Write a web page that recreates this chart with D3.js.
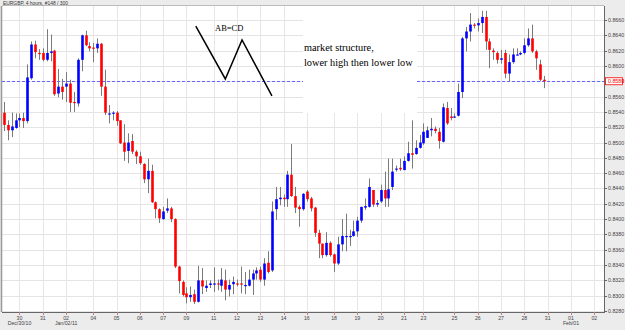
<!DOCTYPE html>
<html>
<head>
<meta charset="utf-8">
<script src="https://cdn.jsdelivr.net/npm/d3@7"></script>
<style>
  html, body { margin: 0; padding: 0; background: #ececec; }
  svg { display: block; }
</style>
</head>
<body>
<div id="chart"></div>
<script>
// EURGBP 4h candles (open / high / low / close)
const opens = [
  0.8539, 0.8523, 0.8516, 0.8519, 0.8529, 0.8532, 0.8528, 0.8584, 0.8628, 0.8617,
  0.8617, 0.8608, 0.8617, 0.8620, 0.8564, 0.8573, 0.8573, 0.8577, 0.8553, 0.8551,
  0.8608, 0.8640, 0.8626, 0.8624, 0.8623, 0.8629, 0.8573, 0.8538, 0.8538, 0.8539,
  0.8529, 0.8500, 0.8489, 0.8502, 0.8488, 0.8482, 0.8472, 0.8452, 0.8463, 0.8422,
  0.8413, 0.8400, 0.8411, 0.8414, 0.8400, 0.8338, 0.8318, 0.8303, 0.8298, 0.8302,
  0.8292, 0.8320, 0.8310, 0.8314, 0.8316, 0.8316, 0.8313, 0.8320, 0.8308, 0.8315,
  0.8316, 0.8316, 0.8314, 0.8313, 0.8321, 0.8329, 0.8334, 0.8321, 0.8343, 0.8333,
  0.8413, 0.8426, 0.8428, 0.8426, 0.8458, 0.8430, 0.8416, 0.8413, 0.8436, 0.8427,
  0.8415, 0.8382, 0.8368, 0.8353, 0.8369, 0.8354, 0.8342, 0.8367, 0.8377, 0.8377,
  0.8378, 0.8384, 0.8398, 0.8415, 0.8416, 0.8438, 0.8419, 0.8423, 0.8438, 0.8427,
  0.8442, 0.8465, 0.8467, 0.8464, 0.8476, 0.8486, 0.8485, 0.8493, 0.8499, 0.8506,
  0.8516, 0.8518, 0.8514, 0.8501, 0.8545, 0.8534, 0.8533, 0.8535, 0.8566, 0.8636,
  0.8645, 0.8654, 0.8653, 0.8656, 0.8664, 0.8632, 0.8620, 0.8617, 0.8608, 0.8617,
  0.8590, 0.8605, 0.8614, 0.8615, 0.8617, 0.8627, 0.8636, 0.8619, 0.8602, 0.8582
];
const highs = [
  0.8553, 0.8529, 0.8539, 0.8538, 0.8538, 0.8539, 0.8602, 0.8632, 0.8633, 0.8622,
  0.8623, 0.8648, 0.8641, 0.8621, 0.8596, 0.8583, 0.8592, 0.8582, 0.8566, 0.8610,
  0.8641, 0.8646, 0.8631, 0.8630, 0.8636, 0.8630, 0.8595, 0.8549, 0.8541, 0.8541,
  0.8529, 0.8524, 0.8512, 0.8511, 0.8490, 0.8488, 0.8473, 0.8479, 0.8471, 0.8423,
  0.8414, 0.8416, 0.8427, 0.8416, 0.8401, 0.8339, 0.8320, 0.8311, 0.8312, 0.8308,
  0.8339, 0.8336, 0.8320, 0.8320, 0.8337, 0.8321, 0.8336, 0.8334, 0.8321, 0.8325,
  0.8321, 0.8338, 0.8331, 0.8334, 0.8334, 0.8337, 0.8338, 0.8349, 0.8358, 0.8423,
  0.8442, 0.8442, 0.8432, 0.8463, 0.8498, 0.8442, 0.8418, 0.8434, 0.8438, 0.8429,
  0.8416, 0.8386, 0.8368, 0.8383, 0.8371, 0.8355, 0.8377, 0.8400, 0.8407, 0.8386,
  0.8398, 0.8403, 0.8416, 0.8427, 0.8453, 0.8438, 0.8425, 0.8445, 0.8462, 0.8479,
  0.8479, 0.8470, 0.8479, 0.8482, 0.8501, 0.8529, 0.8503, 0.8510, 0.8525, 0.8521,
  0.8532, 0.8521, 0.8519, 0.8551, 0.8553, 0.8545, 0.8538, 0.8577, 0.8638, 0.8651,
  0.8669, 0.8656, 0.8662, 0.8672, 0.8672, 0.8636, 0.8623, 0.8619, 0.8621, 0.8621,
  0.8615, 0.8623, 0.8623, 0.8619, 0.8636, 0.8649, 0.8654, 0.8621, 0.8608, 0.8587
];
const lows = [
  0.8515, 0.8503, 0.8507, 0.8518, 0.8520, 0.8519, 0.8525, 0.8582, 0.8610, 0.8608,
  0.8606, 0.8606, 0.8606, 0.8561, 0.8559, 0.8556, 0.8553, 0.8540, 0.8540, 0.8547,
  0.8593, 0.8626, 0.8619, 0.8605, 0.8617, 0.8561, 0.8536, 0.8525, 0.8529, 0.8522,
  0.8498, 0.8476, 0.8473, 0.8485, 0.8472, 0.8471, 0.8447, 0.8434, 0.8421, 0.8401,
  0.8395, 0.8399, 0.8408, 0.8396, 0.8336, 0.8303, 0.8299, 0.8290, 0.8292, 0.8289,
  0.8291, 0.8302, 0.8305, 0.8310, 0.8305, 0.8307, 0.8305, 0.8294, 0.8299, 0.8302,
  0.8312, 0.8303, 0.8302, 0.8312, 0.8301, 0.8321, 0.8318, 0.8313, 0.8329, 0.8331,
  0.8399, 0.8418, 0.8416, 0.8416, 0.8429, 0.8408, 0.8390, 0.8411, 0.8423, 0.8410,
  0.8377, 0.8349, 0.8349, 0.8351, 0.8351, 0.8331, 0.8340, 0.8358, 0.8358, 0.8365,
  0.8377, 0.8377, 0.8395, 0.8412, 0.8415, 0.8416, 0.8416, 0.8421, 0.8416, 0.8416,
  0.8438, 0.8462, 0.8463, 0.8464, 0.8475, 0.8466, 0.8484, 0.8492, 0.8497, 0.8506,
  0.8508, 0.8512, 0.8492, 0.8500, 0.8523, 0.8529, 0.8532, 0.8534, 0.8558, 0.8619,
  0.8632, 0.8649, 0.8645, 0.8643, 0.8621, 0.8597, 0.8608, 0.8603, 0.8603, 0.8584,
  0.8580, 0.8603, 0.8614, 0.8614, 0.8615, 0.8625, 0.8617, 0.8595, 0.8580, 0.8571
];
const closes = [
  0.8523, 0.8516, 0.8521, 0.8529, 0.8532, 0.8528, 0.8585, 0.8628, 0.8618, 0.8616,
  0.8608, 0.8617, 0.8619, 0.8563, 0.8573, 0.8566, 0.8577, 0.8552, 0.8552, 0.8608,
  0.8640, 0.8627, 0.8623, 0.8623, 0.8629, 0.8573, 0.8539, 0.8538, 0.8539, 0.8528,
  0.8499, 0.8488, 0.8500, 0.8488, 0.8482, 0.8473, 0.8452, 0.8463, 0.8422, 0.8413,
  0.8401, 0.8410, 0.8414, 0.8400, 0.8338, 0.8319, 0.8301, 0.8298, 0.8301, 0.8292,
  0.8320, 0.8312, 0.8313, 0.8316, 0.8316, 0.8315, 0.8321, 0.8308, 0.8314, 0.8318,
  0.8315, 0.8315, 0.8314, 0.8321, 0.8329, 0.8333, 0.8321, 0.8342, 0.8331, 0.8410,
  0.8426, 0.8428, 0.8426, 0.8458, 0.8430, 0.8415, 0.8413, 0.8433, 0.8426, 0.8414,
  0.8382, 0.8368, 0.8353, 0.8369, 0.8353, 0.8342, 0.8367, 0.8378, 0.8378, 0.8378,
  0.8384, 0.8398, 0.8416, 0.8417, 0.8442, 0.8419, 0.8421, 0.8438, 0.8427, 0.8439,
  0.8462, 0.8466, 0.8465, 0.8476, 0.8486, 0.8484, 0.8493, 0.8500, 0.8514, 0.8516,
  0.8518, 0.8515, 0.8502, 0.8546, 0.8525, 0.8532, 0.8534, 0.8566, 0.8636, 0.8645,
  0.8654, 0.8653, 0.8656, 0.8664, 0.8632, 0.8621, 0.8618, 0.8608, 0.8610, 0.8590,
  0.8605, 0.8615, 0.8615, 0.8617, 0.8627, 0.8636, 0.8619, 0.8610, 0.8582, 0.8580
];

// axis stuff
const xTickBars = [4, 10, 16, 23, 29, 35, 41, 47, 54, 60, 66, 72, 78, 85, 91, 97, 103, 108, 116, 122, 128, 134, 140, 146, 152];
const xTickLabels = ["30", "31", "02", "04", "05", "06", "07", "09", "11", "12", "13", "14", "16", "18", "19", "20", "21", "23", "25", "26", "27", "28", "31", "01", "02"];
const xSubLabels = ["Dec/30/10", "", "Jan/02/11", "", "", "", "", "", "", "", "", "", "", "", "", "", "", "", "", "", "", "", "", "Feb/01", ""];
const yTicks = [0.8280, 0.8300, 0.8320, 0.8340, 0.8360, 0.8380, 0.8400, 0.8420, 0.8440, 0.8460,
  0.8480, 0.8500, 0.8520, 0.8540, 0.8560, 0.8580, 0.8600, 0.8620, 0.8640, 0.8660];
const lastPrice = 0.8580;

// hand drawn AB=CD zigzag (bar index, price)
const abcdBars = [49.4, 57.0, 61.3, 69.0];
const abcdPrices = [0.8652, 0.8583, 0.8634, 0.8561];

const width = 625;
const height = 330;
const plotL = 2, plotR = 604, plotT = 6, plotB = 312;
const nSlots = 155; // visible bar slots incl. empty shift on the right

const svg = d3.select("#chart")
  .append("svg")
  .attr("width", width)
  .attr("height", height);

const x = d3.scaleLinear().domain([-0.5, nSlots - 0.5]).range([plotL, plotR]);
const y = d3.scaleLinear().domain([0.8280, 0.8660]).range([311, 20]);

const font = "'Liberation Sans', Arial, sans-serif";
const serif = "'Liberation Serif', 'Times New Roman', serif";

// background
svg.append("rect").attr("width", width).attr("height", height).attr("fill", "#ececec");
svg.append("rect")
  .attr("x", plotL).attr("y", plotT)
  .attr("width", plotR - plotL).attr("height", plotB - plotT)
  .attr("fill", "#fff");

// grid
svg.append("g")
  .selectAll("line")
  .data(yTicks)
  .join("line")
  .attr("x1", plotL).attr("x2", plotR)
  .attr("y1", d => Math.round(y(d)) + 0.5).attr("y2", d => Math.round(y(d)) + 0.5)
  .attr("stroke", "#e4e4e4");

svg.append("g")
  .selectAll("line")
  .data(xTickBars)
  .join("line")
  .attr("x1", d => Math.round(x(d)) + 0.5).attr("x2", d => Math.round(x(d)) + 0.5)
  .attr("y1", plotT).attr("y2", plotB)
  .attr("stroke", "#ebe4e6");

// current price line
svg.append("line")
  .attr("x1", plotL).attr("x2", plotR)
  .attr("y1", Math.round(y(lastPrice)) + 0.5).attr("y2", Math.round(y(lastPrice)) + 0.5)
  .attr("stroke", "#6666ff")
  .attr("stroke-dasharray", "3,2");

// candles
const bars = d3.range(opens.length).map(i => ({
  i, o: opens[i], h: highs[i], l: lows[i], c: closes[i]
}));

const candles = svg.append("g");
candles.selectAll("line")
  .data(bars)
  .join("line")
  .attr("x1", d => Math.round(x(d.i)) + 0.5).attr("x2", d => Math.round(x(d.i)) + 0.5)
  .attr("y1", d => y(d.h)).attr("y2", d => y(d.l))
  .attr("stroke", "#7a7a7a");

const bodyW = 2.6;
candles.selectAll("rect")
  .data(bars)
  .join("rect")
  .attr("x", d => Math.round(x(d.i)) + 0.5 - bodyW / 2)
  .attr("y", d => y(Math.max(d.o, d.c)))
  .attr("width", bodyW)
  .attr("height", d => Math.max(1.2, Math.abs(y(d.o) - y(d.c))))
  .attr("fill", d => d.c >= d.o ? "#0000ff" : "#ff0000");

// white box behind the notes (pasted over the chart)
svg.append("rect")
  .attr("x", 303).attr("y", plotT)
  .attr("width", 114).attr("height", 107)
  .attr("fill", "#fff");

// AB=CD zigzag
svg.append("path")
  .attr("d", d3.line()(abcdBars.map((b, k) => [x(b), y(abcdPrices[k])])))
  .attr("fill", "none")
  .attr("stroke", "#000")
  .attr("stroke-width", 1.5);

svg.append("text")
  .attr("x", 215).attr("y", 31)
  .attr("font-family", serif).attr("font-size", 8.5)
  .text("AB=CD");
svg.append("text")
  .attr("x", 304).attr("y", 51)
  .attr("font-family", serif).attr("font-size", 10.3)
  .text("market structure,");
svg.append("text")
  .attr("x", 304).attr("y", 65.5)
  .attr("font-family", serif).attr("font-size", 10.3)
  .text("lower high then lower low");

// frame
svg.append("line").attr("x1", plotL - 0.5).attr("x2", plotL - 0.5).attr("y1", plotT).attr("y2", plotB)
  .attr("stroke", "#999").attr("stroke-width", 1.5);
svg.append("line").attr("x1", plotL).attr("x2", plotR).attr("y1", plotT - 0.5).attr("y2", plotT - 0.5)
  .attr("stroke", "#bbb");
svg.append("line").attr("x1", plotR + 0.5).attr("x2", plotR + 0.5).attr("y1", plotT).attr("y2", plotB + 1)
  .attr("stroke", "#666");
svg.append("line").attr("x1", plotL).attr("x2", plotR + 1).attr("y1", plotB + 0.5).attr("y2", plotB + 0.5)
  .attr("stroke", "#666");

// right price axis
const ya = svg.append("g").attr("font-family", font).attr("font-size", 5.3).attr("fill", "#444");
ya.selectAll("line")
  .data(yTicks)
  .join("line")
  .attr("x1", plotR).attr("x2", plotR + 3)
  .attr("y1", d => Math.round(y(d)) + 0.5).attr("y2", d => Math.round(y(d)) + 0.5)
  .attr("stroke", "#666");
ya.selectAll("text")
  .data(yTicks)
  .join("text")
  .attr("x", plotR + 4)
  .attr("y", d => y(d) + 2)
  .text(d => d.toFixed(4));

// last price box
svg.append("rect")
  .attr("x", plotR + 1.5).attr("y", y(lastPrice) - 3.5)
  .attr("width", 17).attr("height", 7)
  .attr("fill", "#fff").attr("stroke", "#ff0000").attr("stroke-width", 0.8);
svg.append("text")
  .attr("x", plotR + 4).attr("y", y(lastPrice) + 2)
  .attr("font-family", font).attr("font-size", 5.3).attr("fill", "#ff0000")
  .text(lastPrice.toFixed(4));

// bottom time axis
const xa = svg.append("g").attr("font-family", font).attr("font-size", 5.2).attr("fill", "#444")
  .attr("text-anchor", "middle");
xa.selectAll("line")
  .data(xTickBars)
  .join("line")
  .attr("x1", d => Math.round(x(d)) + 0.5).attr("x2", d => Math.round(x(d)) + 0.5)
  .attr("y1", plotB).attr("y2", plotB + 3)
  .attr("stroke", "#c08080");
xa.selectAll("text.day")
  .data(xTickBars)
  .join("text")
  .attr("class", "day")
  .attr("x", d => x(d))
  .attr("y", 319.5)
  .text((d, k) => xTickLabels[k]);
xa.selectAll("text.sub")
  .data(xTickBars)
  .join("text")
  .attr("class", "sub")
  .attr("x", d => x(d))
  .attr("y", 325)
  .text((d, k) => xSubLabels[k]);

// title
svg.append("text")
  .attr("x", 3).attr("y", 5)
  .attr("font-family", font).attr("font-size", 4.9).attr("fill", "#333")
  .text("EURGBP, 4 hours, #148 / 300");
</script>
</body>
</html>
